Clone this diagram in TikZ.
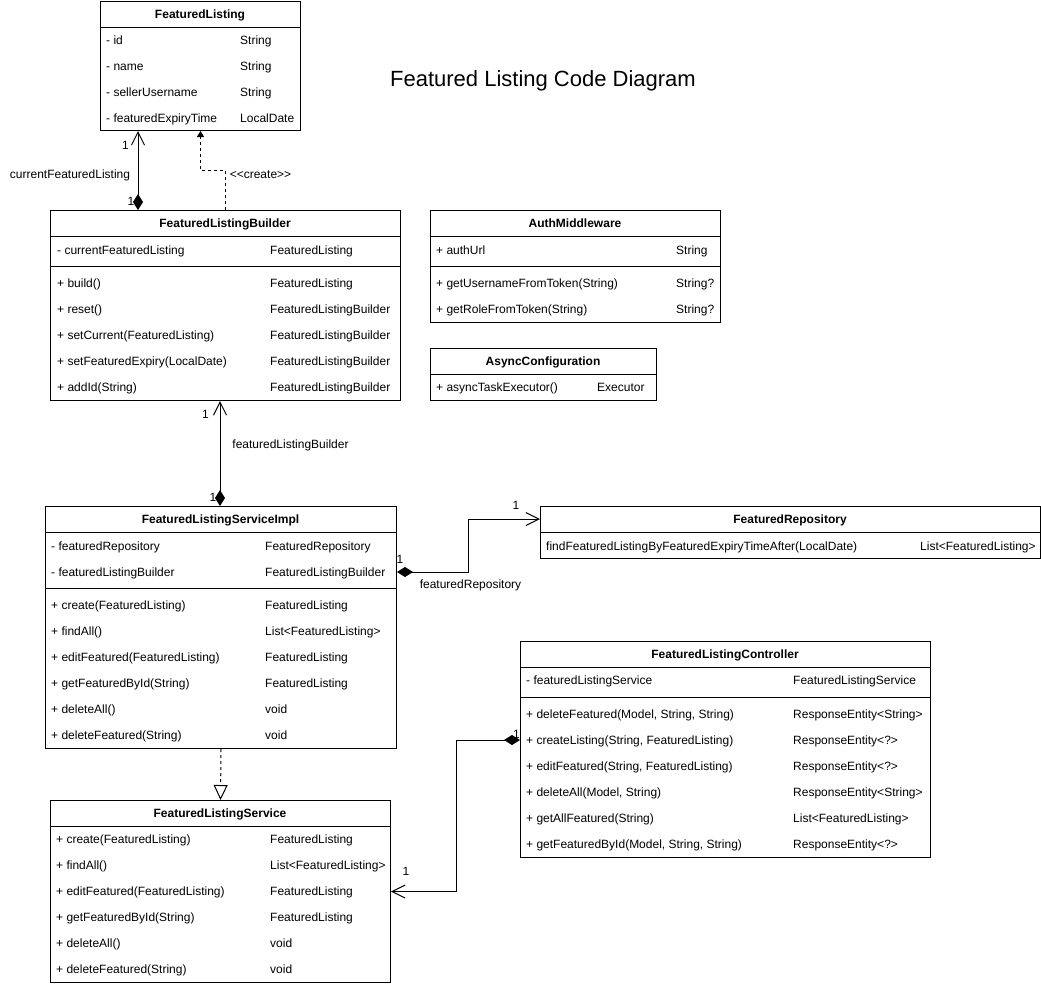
\documentclass[tikz,border=0pt]{standalone}
\usepackage{fontspec}
\setmainfont{Liberation Sans}
\usetikzlibrary{arrows.meta,calc}
\newcommand\dfont{\fontsize{12}{14}\selectfont}
\newcommand\crow[6]{\node[tx] (#1a) at (#3,#2) {#4}; \node[tx] (#1b) at (#5,#2) {#6};}
\tikzset{
  cls/.style={draw, line width=1pt, inner sep=0pt, anchor=north west, fill=white},
  tx/.style={anchor=base west, inner sep=0pt, font=\dfont},
  hd/.style={anchor=base, inner sep=0pt, font=\dfont\bfseries},
  lbl/.style={anchor=base, inner sep=0pt, font=\dfont},
  sep/.style={line width=1pt},
  conn/.style={line width=1pt},
  comp/.style={conn, {Diamond[length=16pt,width=10pt]}-{Straight Barb[length=13pt,width=13pt]}},
  create/.style={conn, dash pattern=on 3pt off 3pt, -{Triangle[length=6pt,width=7pt]}},
  realize/.style={conn, dash pattern=on 3pt off 3pt, -{Triangle[open,length=15pt,width=14pt,fill=white]}},
}
\begin{document}
\begin{tikzpicture}[x=1pt,y=-1pt]
\useasboundingbox[fill=white] (0,0) rectangle (1041,986);

% Title
\node[anchor=base, inner sep=0pt, font=\fontsize{22}{26}\selectfont] (title) at (543,86) {Featured Listing Code Diagram};

% FeaturedListing
\node[cls, minimum width=200pt, minimum height=129pt] (fl) at (100,1) {};
\draw[sep] (100,27) -- (300,27);
\node[hd] (flh) at (200,18) {FeaturedListing};
\crow{fla}{44}{106}{- id}{240}{String}
\crow{flb}{70}{106}{- name}{240}{String}
\crow{flc}{96}{106}{- sellerUsername}{240}{String}
\crow{fld}{122}{106}{- featuredExpiryTime}{240}{LocalDate}

% FeaturedListingBuilder
\node[cls, minimum width=350pt, minimum height=190pt] (flbd) at (50,210) {};
\draw[sep] (50,236) -- (400,236);
\draw[sep] (50,266) -- (400,266);
\node[hd] (flbdh) at (225,227) {FeaturedListingBuilder};
\crow{bda}{254}{57}{- currentFeaturedListing}{270}{FeaturedListing}
\crow{bdb}{287}{57}{+ build()}{270}{FeaturedListing}
\crow{bdc}{313}{57}{+ reset()}{270}{FeaturedListingBuilder}
\crow{bdd}{339}{57}{+ setCurrent(FeaturedListing)}{270}{FeaturedListingBuilder}
\crow{bde}{365}{57}{+ setFeaturedExpiry(LocalDate)}{270}{FeaturedListingBuilder}
\crow{bdf}{391}{57}{+ addId(String)}{270}{FeaturedListingBuilder}

% AuthMiddleware
\node[cls, minimum width=290pt, minimum height=112pt] (am) at (430,210) {};
\draw[sep] (430,236) -- (720,236);
\draw[sep] (430,266) -- (720,266);
\node[hd] (amh) at (575,227) {AuthMiddleware};
\crow{ama}{254}{436}{+ authUrl}{676}{String}
\crow{amb}{287}{436}{+ getUsernameFromToken(String)}{676}{String?}
\crow{amc}{313}{436}{+ getRoleFromToken(String)}{676}{String?}

% AsyncConfiguration
\node[cls, minimum width=226pt, minimum height=52pt] (ac) at (430,348) {};
\draw[sep] (430,374) -- (656,374);
\node[hd] (ach) at (543,365) {AsyncConfiguration};
\crow{aca}{391}{436}{+ asyncTaskExecutor()}{597}{Executor}

% FeaturedListingServiceImpl
\node[cls, minimum width=351pt, minimum height=242pt] (fsi) at (45,506) {};
\draw[sep] (45,532) -- (396,532);
\draw[sep] (45,588) -- (396,588);
\node[hd] (fsih) at (220.5,523) {FeaturedListingServiceImpl};
\crow{sia}{550}{51}{- featuredRepository}{265}{FeaturedRepository}
\crow{sib}{576}{51}{- featuredListingBuilder}{265}{FeaturedListingBuilder}
\crow{sic}{609}{51}{+ create(FeaturedListing)}{265}{FeaturedListing}
\crow{sid}{635}{51}{+ findAll()}{265}{List<FeaturedListing>}
\crow{sie}{661}{51}{+ editFeatured(FeaturedListing)}{265}{FeaturedListing}
\crow{sif}{687}{51}{+ getFeaturedById(String)}{265}{FeaturedListing}
\crow{sig}{713}{51}{+ deleteAll()}{265}{void}
\crow{sih}{739}{51}{+ deleteFeatured(String)}{265}{void}

% FeaturedRepository
\node[cls, minimum width=500pt, minimum height=52pt] (fr) at (540,506) {};
\draw[sep] (540,532) -- (1040,532);
\node[hd] (frh) at (790,523) {FeaturedRepository};
\crow{fra}{550}{546}{findFeaturedListingByFeaturedExpiryTimeAfter(LocalDate)}{920}{List<FeaturedListing>}

% FeaturedListingController
\node[cls, minimum width=410pt, minimum height=216pt] (flc) at (520,641) {};
\draw[sep] (520,667) -- (930,667);
\draw[sep] (520,697) -- (930,697);
\node[hd] (flch) at (725,658) {FeaturedListingController};
\crow{ca}{684}{526}{- featuredListingService}{793}{FeaturedListingService}
\crow{cb}{718}{526}{+ deleteFeatured(Model, String, String)}{793}{ResponseEntity<String>}
\crow{cc}{744}{526}{+ createListing(String, FeaturedListing)}{793}{ResponseEntity<?>}
\crow{cd}{770}{526}{+ editFeatured(String, FeaturedListing)}{793}{ResponseEntity<?>}
\crow{ce}{796}{526}{+ deleteAll(Model, String)}{793}{ResponseEntity<String>}
\crow{cf}{822}{526}{+ getAllFeatured(String)}{793}{List<FeaturedListing>}
\crow{cg}{848}{526}{+ getFeaturedById(Model, String, String)}{793}{ResponseEntity<?>}

% FeaturedListingService
\node[cls, minimum width=340pt, minimum height=182pt] (fs) at (50,800) {};
\draw[sep] (50,826) -- (390,826);
\node[hd] (fsh) at (220,817) {FeaturedListingService};
\crow{sa}{843}{56}{+ create(FeaturedListing)}{270}{FeaturedListing}
\crow{sb}{869}{56}{+ findAll()}{270}{List<FeaturedListing>}
\crow{sc}{895}{56}{+ editFeatured(FeaturedListing)}{270}{FeaturedListing}
\crow{sd}{921}{56}{+ getFeaturedById(String)}{270}{FeaturedListing}
\crow{se}{947}{56}{+ deleteAll()}{270}{void}
\crow{sf}{973}{56}{+ deleteFeatured(String)}{270}{void}

% Connectors
\draw[comp] ($(flbd.north west)+(88,0)$) -- ($(fl.south west)+(38,0)$);
\node[lbl] (l1) at (125.5,149) {1};
\node[lbl] (l2) at (131,205) {1};
\node[lbl] (l3) at (70,178) {currentFeaturedListing};

\draw[create] ($(flbd.north west)+(175,0)$) -- ++(0,-40) -| (fl.south);
\node[lbl] (l4) at (260.5,178) {{<}{<}create{>}{>}};

\draw[comp] ($(fsi.north west)+(175,0)$) -- ($(flbd.south west)+(170,0)$);
\node[lbl] (l5) at (205.5,418) {1};
\node[lbl] (l6) at (290.5,448) {featuredListingBuilder};
\node[lbl] (l7) at (213,501) {1};

\draw[comp] ($(fsi.north east)+(0,66)$) -- ++(71,0) |- ($(fr.north west)+(0,13)$);
\node[lbl] (l8) at (400,563) {1};
\node[lbl] (l9) at (470.5,588) {featuredRepository};
\node[lbl] (l10) at (516,509) {1};

\draw[comp] ($(flc.north west)+(0,99)$) -- ++(-64,0) |- (fs.east);
\node[lbl] (l11) at (516.5,738) {1};
\node[lbl] (l12) at (406,875) {1};

\draw[realize] (fsi.south) -- (fs.north);
\end{tikzpicture}
\end{document}
